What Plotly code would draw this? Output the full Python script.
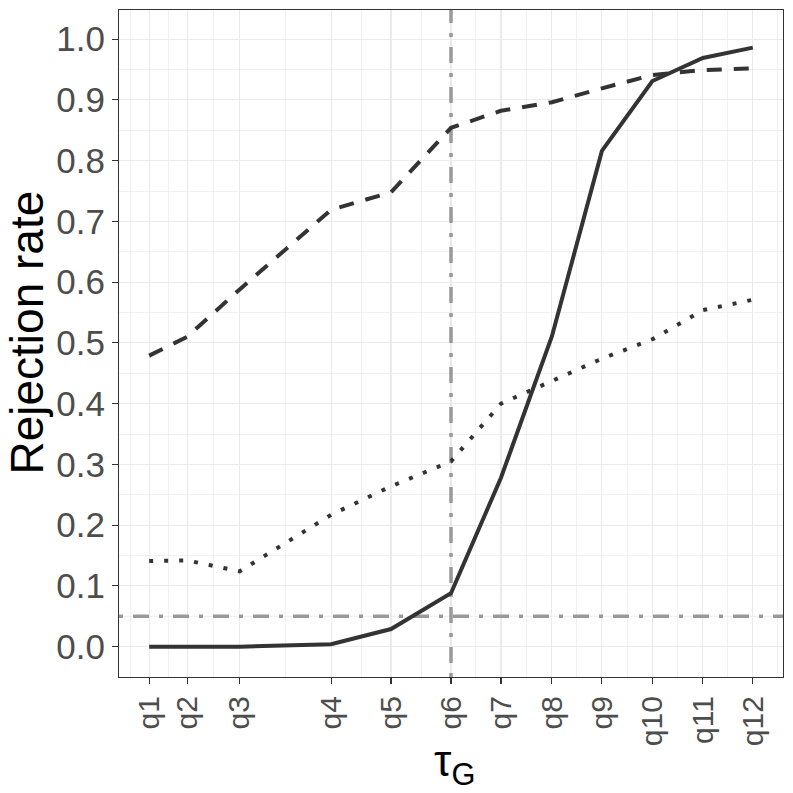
import plotly.graph_objects as go

# ---- data ----
tau_labels = ["q1", "q2", "q3", "q4", "q5", "q6", "q7", "q8", "q9", "q10", "q11", "q12"]
tau_values = [0.0, 3.8, 9.05, 18.2, 24.2, 30.2, 35.2, 40.3, 45.3, 50.35, 55.4, 60.4]

rate_solid = [0.000, 0.000, 0.000, 0.004, 0.029, 0.088, 0.278, 0.511, 0.816, 0.931, 0.969, 0.986]
rate_dashed = [0.479, 0.510, 0.588, 0.719, 0.748, 0.854, 0.882, 0.896, 0.919, 0.941, 0.949, 0.952]
rate_dotted = [0.141, 0.142, 0.124, 0.217, 0.264, 0.305, 0.400, 0.437, 0.474, 0.506, 0.554, 0.571]

alpha_level = 0.05
tau_ref_index = 5  # q6

y_ticks = [0.0, 0.1, 0.2, 0.3, 0.4, 0.5, 0.6, 0.7, 0.8, 0.9, 1.0]

# ---- derived helpers ----
FONT = "Liberation Sans, Arial, Helvetica, sans-serif"
LINE_COL = "#333333"
GRID_COL = "#ebebeb"
REF_COL = "#999999"

span = tau_values[-1] - tau_values[0]
x_range = [tau_values[0] - 0.05 * span, tau_values[-1] + 0.05 * span]
y_lo, y_hi = 0.0, 0.998
y_span = y_hi - y_lo
y_range = [y_lo - 0.05 * y_span, y_hi + 0.05 * y_span]

x_minor = [(a + b) / 2 for a, b in zip(tau_values[:-1], tau_values[1:])]
x_minor = [tau_values[0] - (tau_values[1] - tau_values[0]) / 2] + x_minor + \
          [tau_values[-1] + (tau_values[-1] - tau_values[-2]) / 2]
y_minor = [t + 0.05 for t in y_ticks]

fig = go.Figure()

# reference lines (drawn first, under the data lines)
ref_dash = "4px,10px,16px,10px"
fig.add_trace(go.Scatter(
    x=x_range, y=[alpha_level, alpha_level], mode="lines",
    line=dict(color=REF_COL, width=3.5, dash=ref_dash),
    showlegend=False, hoverinfo="skip",
))
fig.add_trace(go.Scatter(
    x=[tau_values[tau_ref_index]] * 2, y=y_range, mode="lines",
    line=dict(color=REF_COL, width=3.5, dash=ref_dash),
    showlegend=False, hoverinfo="skip",
))

series = [
    (rate_solid, "solid"),
    (rate_dashed, "15px,12px"),
    (rate_dotted, "4px,11px"),
]
for vals, dash in series:
    fig.add_trace(go.Scatter(
        x=tau_values, y=vals, mode="lines",
        line=dict(color=LINE_COL, width=4, dash=dash),
        showlegend=False, hoverinfo="skip",
    ))

fig.update_layout(
    width=793, height=793,
    margin=dict(l=119, r=10, t=10, b=116, autoexpand=False),
    paper_bgcolor="white", plot_bgcolor="white",
    font=dict(family=FONT, color="#000000"),
    showlegend=False,
    annotations=[
        dict(text="Rejection rate", xref="paper", yref="paper",
             x=-0.139, y=0.516, xanchor="center", yanchor="middle",
             textangle=-90, showarrow=False,
             font=dict(family=FONT, size=46, color="#000000")),
        dict(text="τ<sub>G</sub>", xref="paper", yref="paper",
             x=0.505, y=-0.131, xanchor="center", yanchor="middle",
             showarrow=False,
             font=dict(family=FONT, size=44, color="#000000")),
    ],
)

fig.update_xaxes(
    range=x_range, automargin=False,
    tickmode="array", tickvals=tau_values, ticktext=tau_labels,
    tickangle=-90,
    tickfont=dict(family=FONT, size=30, color="#4d4d4d"),
    ticks="outside", ticklen=6, tickwidth=1.1, tickcolor=LINE_COL,
    showgrid=True, gridcolor=GRID_COL, gridwidth=1.1,
    minor=dict(tickmode="array", tickvals=x_minor, showgrid=True,
               gridcolor=GRID_COL, gridwidth=0.7, ticks=""),
    showline=True, mirror=True, linecolor=LINE_COL, linewidth=1.1,
    zeroline=False,
)
fig.update_yaxes(
    range=y_range, automargin=False,
    tickmode="array", tickvals=y_ticks, ticktext=[f"{v:.1f}" for v in y_ticks],
    tickfont=dict(family=FONT, size=35, color="#4d4d4d"),
    ticks="outside", ticklen=6, tickwidth=1.1, tickcolor=LINE_COL,
    showgrid=True, gridcolor=GRID_COL, gridwidth=1.1,
    minor=dict(tickmode="array", tickvals=y_minor, showgrid=True,
               gridcolor=GRID_COL, gridwidth=0.7, ticks=""),
    showline=True, mirror=True, linecolor=LINE_COL, linewidth=1.1,
    zeroline=False,
)

fig.write_html(
    "out.html",
    config={"displayModeBar": False, "staticPlot": True},
    post_script="document.body.style.margin='0';document.body.style.padding='0';"
                "document.body.style.overflow='hidden';",
)
